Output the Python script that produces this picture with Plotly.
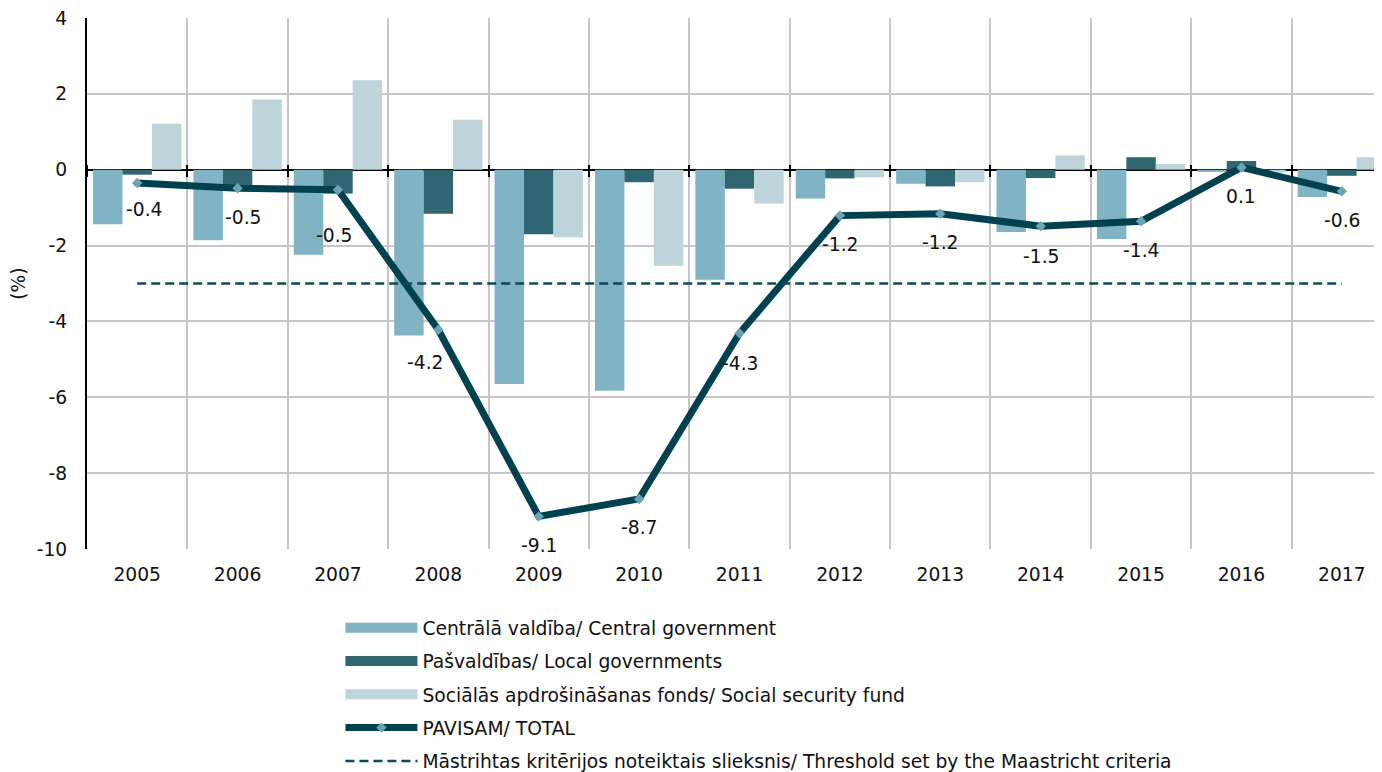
import plotly.graph_objects as go

years = ["2005", "2006", "2007", "2008", "2009", "2010", "2011",
         "2012", "2013", "2014", "2015", "2016", "2017"]
central = [-1.44, -1.86, -2.24, -4.37, -5.65, -5.83, -2.90, -0.76, -0.37, -1.64, -1.83, -0.06, -0.72]
local_gov = [-0.13, -0.48, -0.63, -1.16, -1.70, -0.33, -0.50, -0.23, -0.44, -0.22, 0.33, 0.23, -0.16]
social = [1.21, 1.85, 2.36, 1.32, -1.78, -2.53, -0.89, -0.20, -0.33, 0.38, 0.15, -0.08, 0.33]
total = [-0.35, -0.49, -0.53, -4.22, -9.14, -8.68, -4.31, -1.21, -1.16, -1.49, -1.36, 0.06, -0.57]
total_labels = ["-0.4", "-0.5", "-0.5", "-4.2", "-9.1", "-8.7", "-4.3",
                "-1.2", "-1.2", "-1.5", "-1.4", "0.1", "-0.6"]
threshold = [-3] * len(years)
y_tickvals = [4, 2, 0, -2, -4, -6, -8, -10]
y_ticktext = ["4", "2", "0", "-2", "-4", "-6", "-8", "-10"]

names = ["Centrālā valdība/ Central government",
         "Pašvaldības/ Local governments",
         "Sociālās apdrošināšanas fonds/ Social security fund",
         "PAVISAM/ TOTAL",
         "Māstrihtas kritērijos noteiktais slieksnis/ Threshold set by the Maastricht criteria"]

# label nudges (pixels)
label_dx = [7, 5, -4, -13, 0, 0, 0, 0, 0, 0, 0, 0, 0]
label_dy = [-27, -29, -46, -33, -29, -29, -30, -29, -29, -30, -29, -29, -29]

C_CENTRAL = "#80b4c5"
C_LOCAL = "#306572"
C_SOCIAL = "#bdd4da"
C_TOTAL = "#00414f"
C_MARK = "#6aa5b5"
C_THR = "#0b4a59"
FONT = "DejaVu Sans"
FS = 18.7

fig = go.Figure()
for vals, col in [(central, C_CENTRAL), (local_gov, C_LOCAL), (social, C_SOCIAL)]:
    fig.add_trace(go.Bar(x=years, y=vals, marker=dict(color=col, line=dict(width=0)),
                         showlegend=False, hoverinfo="y"))

for i, col in enumerate([C_CENTRAL, C_LOCAL, C_SOCIAL]):
    fig.add_trace(go.Scatter(x=[None], y=[None], mode="lines", name=names[i],
                             line=dict(color=col, width=10), legendrank=i + 1,
                             legendgroup=f"g{i}"))

fig.add_trace(go.Scatter(x=years, y=threshold, xaxis="x2", mode="lines", name=names[4],
                         line=dict(color=C_THR, width=2.5, dash="9px,5px"),
                         legendrank=5, legendgroup="g4"))

fig.add_trace(go.Scatter(x=years, y=total, mode="lines+markers", name=names[3],
                         line=dict(color=C_TOTAL, width=7),
                         marker=dict(symbol="diamond", size=8, color=C_MARK),
                         legendrank=4, legendgroup="g3"))

for i, (v, t, dx, dy) in enumerate(zip(total, total_labels, label_dx, label_dy)):
    fig.add_annotation(x=i, y=v, xref="x", yref="y", text=t, showarrow=False,
                       xshift=dx, yshift=dy,
                       font=dict(family=FONT, size=FS, color="#111111"))

fig.update_layout(
    width=1374, height=764, autosize=False,
    margin=dict(l=79, r=0, t=10, b=223, autoexpand=False),
    paper_bgcolor="white", plot_bgcolor="white",
    font=dict(family=FONT, size=FS, color="#111111"),
    barmode="group", bargap=0.12, bargroupgap=0,
    xaxis=dict(type="category", categoryarray=years, range=[-0.5, 12.4],
               tickson="boundaries", showgrid=True, gridcolor="#c6c6c6", gridwidth=2,
               ticks="", showline=False, zeroline=False, ticklabelstandoff=12,
               automargin=False),
    xaxis2=dict(type="category", categoryarray=years, range=[-0.5, 12.4],
                overlaying="x", anchor="free", position=(10 + 6 / 37.93) / 14, side="bottom",
                tickson="boundaries", ticks="outside", ticklen=12, tickwidth=2, tickcolor="black",
                showticklabels=False, showgrid=False, showline=False, zeroline=False,
                automargin=False),
    yaxis=dict(range=[-10, 4], tickmode="array", tickvals=y_tickvals, ticktext=y_ticktext,
               showgrid=True, gridcolor="#c6c6c6", gridwidth=2,
               zeroline=True, zerolinecolor="black", zerolinewidth=2,
               showline=True, linecolor="black", linewidth=2, ticks="",
               ticklabelstandoff=14, automargin=False, ticklabeloverflow="allow",
               title=dict(text="(%)", standoff=6, font=dict(size=FS))),
    legend=dict(x=0.1957, xanchor="left", y=-0.113, yanchor="top", orientation="v",
                itemwidth=72, tracegroupgap=6, font=dict(size=FS), bgcolor="rgba(0,0,0,0)",
                itemclick=False),
    showlegend=True,
)

fig.write_html("out.html")
